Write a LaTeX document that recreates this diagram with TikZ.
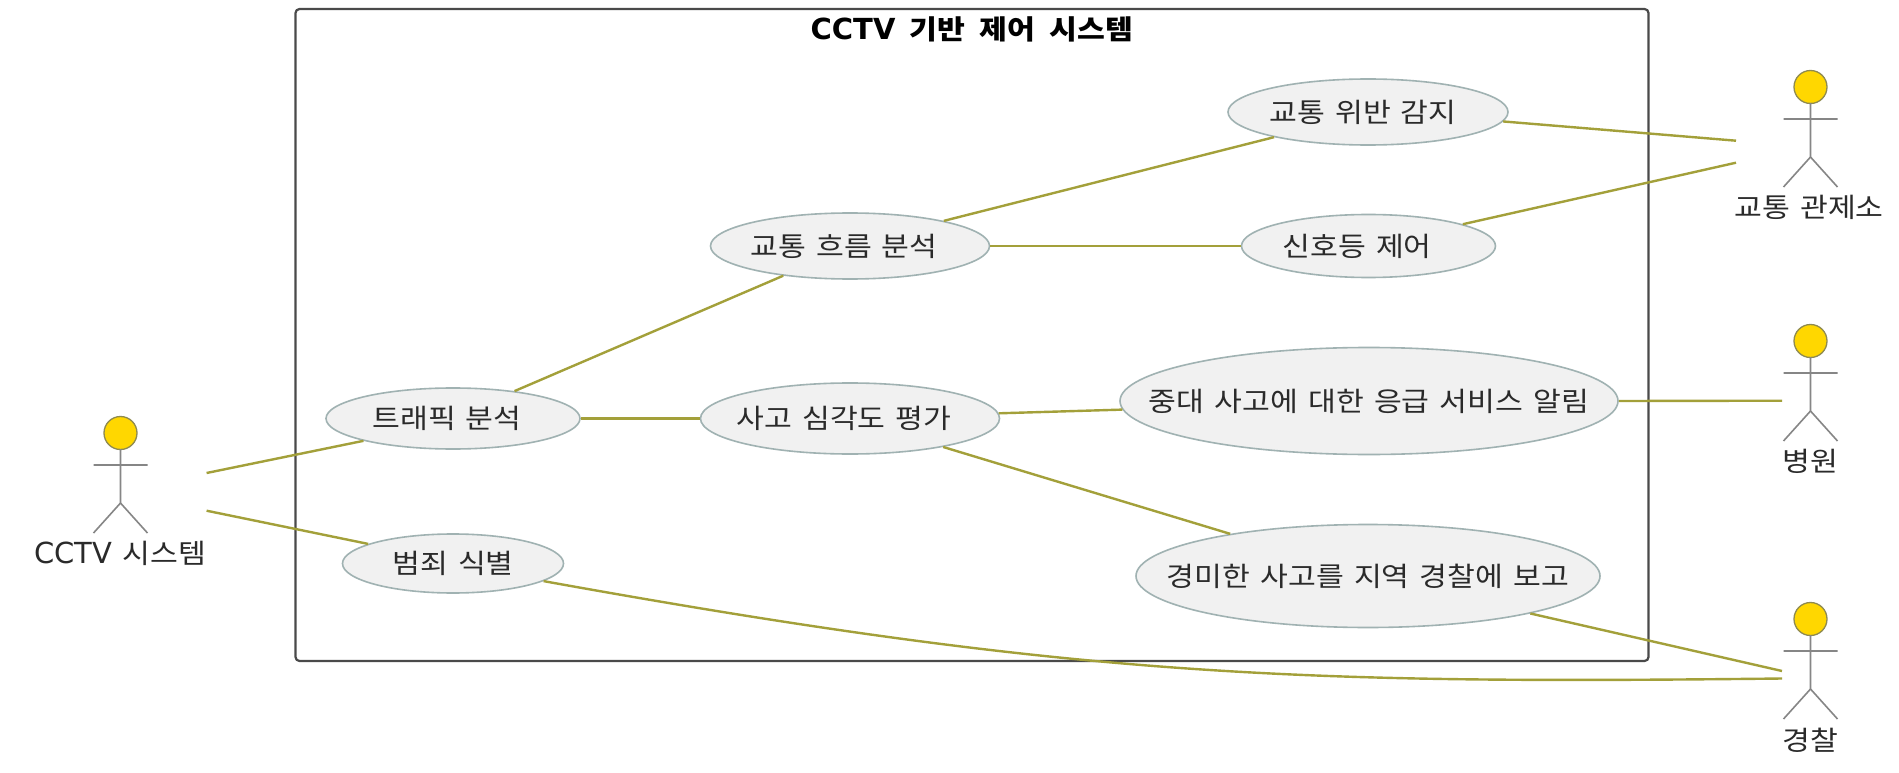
\documentclass[tikz,border=0pt]{standalone}
\usepackage{fontspec}
\setmainfont{DejaVu Sans}
\newfontfamily\kr[FakeStretch=1.12,WordSpace=1.5]{Noto Sans CJK KR}
\usetikzlibrary{shapes.geometric}
\definecolor{linkcol}{HTML}{A3A03A}
\definecolor{ucfill}{HTML}{F1F1F1}
\definecolor{ucline}{HTML}{A0B2B2}
\definecolor{stick}{HTML}{868686}
\definecolor{headcol}{HTML}{FFD700}
\definecolor{headline}{HTML}{8E8A50}
\definecolor{framecol}{HTML}{4A4A4A}
\definecolor{txt}{HTML}{2A2A2A}
\tikzset{
  x=1pt,y=-1pt,
  usecase/.style={ellipse,draw=ucline,fill=ucfill,line width=1.6pt,inner sep=0pt,
    text=txt,font=\fontsize{27}{30}\selectfont\kr},
  link/.style={draw=linkcol,line width=2.4pt},
  actorhead/.style={circle,draw=headline,fill=headcol,line width=1.3pt,minimum size=33pt,inner sep=0pt},
  stickline/.style={draw=stick,line width=1.6pt},
  actorlabel/.style={text=txt,font=\fontsize{27}{30}\selectfont\kr,inner sep=0pt},
  frame/.style={draw=framecol,line width=2.2pt,rounded corners=4pt},
  frametitle/.style={text=black,font=\fontsize{27}{30}\selectfont\bfseries\kr,inner sep=0pt},
}
\newcommand{\uctext}[2][0pt]{\makebox[0pt]{#2\hspace*{#1}}}
\newcommand{\actorfig}[3]{% name, x, head y
  \node[actorhead] (#1head) at (#2,#3) {};
  \coordinate (#1neck) at (#2,#3+16);
  \coordinate (#1hip) at (#2,#3+70);
  \coordinate (#1arml) at (#2-27,#3+32);
  \coordinate (#1armr) at (#2+27,#3+32);
  \coordinate (#1legl) at (#2-27,#3+100);
  \coordinate (#1legr) at (#2+27,#3+100);
  \draw[stickline] (#1neck) -- (#1hip) (#1arml) -- (#1armr) (#1legl) -- (#1hip) -- (#1legr);
}
\begin{document}
\begin{tikzpicture}
\useasboundingbox (0,0) rectangle (1899,773);
\fill[white] (0,0) rectangle (1899,773);
\node[frame,minimum width=1353pt,minimum height=652pt,inner sep=0pt] (sys) at (972,335) {};
\node[frametitle] (systitle) at (972,29) {{\fontspec{DejaVu Sans}\fontsize{29}{30}\selectfont\bfseries CCTV}\hspace{4pt} 기반\hspace{4pt} 제어\hspace{4pt} 시스템};

\node[usecase,minimum width=254pt,minimum height=61pt] (traffic) at (453,418.5) {\uctext[12pt]{트래픽 분석}};
\node[usecase,minimum width=221pt,minimum height=59pt] (crime) at (453,563.5) {\uctext{범죄 식별}};
\node[usecase,minimum width=279pt,minimum height=66pt] (flow) at (850,246) {\uctext[12pt]{교통 흐름 분석}};
\node[usecase,minimum width=280pt,minimum height=66pt] (viol) at (1368,112) {\uctext[10pt]{교통 위반 감지}};
\node[usecase,minimum width=254pt,minimum height=63pt] (signal) at (1368.5,246) {\uctext[23pt]{신호등 제어}};
\node[usecase,minimum width=299pt,minimum height=71pt] (sev) at (850,418.5) {\uctext[12pt]{사고 심각도 평가}};
\node[usecase,minimum width=498pt,minimum height=107pt] (emerg) at (1369,401) {\uctext{중대 사고에 대한 응급 서비스 알림}};
\node[usecase,minimum width=464pt,minimum height=103pt] (minor) at (1368,576) {\uctext{경미한 사고를 지역 경찰에 보고}};

\actorfig{cctv}{120.5}{433}
\actorfig{ctrl}{1810.5}{87}
\actorfig{hosp}{1810.5}{341}
\actorfig{pol}{1810.5}{619}
\node[actorlabel] (cctvlabel) at (120,553) {{\fontspec{DejaVu Sans}\fontsize{29}{30}\selectfont CCTV} 시스템};
\node[actorlabel] (ctrllabel) at (1809,207) {교통 관제소};
\node[actorlabel] (hosplabel) at (1810,461) {병원};
\node[actorlabel] (pollabel) at (1810,740) {경찰};

\coordinate (cctvA) at (206.6,473);
\coordinate (cctvB) at (206.6,510.7);
\coordinate (ctrlA) at (1736,140.7);
\coordinate (ctrlB) at (1736,162.7);
\coordinate (hospA) at (1782,400.7);
\coordinate (polA) at (1782,671);
\coordinate (polB) at (1782,678.5);

\draw[link] (cctvA) -- (traffic.194);
\draw[link] (cctvB) -- (crime.167.9);
\draw[link] (traffic.24.6) -- (flow.204.4);
\draw[link] (traffic.east) -- (sev.west);
\draw[link] (flow.15.5) -- (viol.195.3);
\draw[link] (flow.east) -- (signal.west);
\draw[link] (sev.2.1) -- (emerg.182);
\draw[link] (sev.-17) -- (minor.163.4);
\draw[link] (viol.-4.5) -- (ctrlA);
\draw[link] (signal.13.5) -- (ctrlB);
\draw[link] (emerg.east) -- (hospA);
\draw[link] (minor.-13.5) -- (polA);
\draw[link] (crime.-11.5) .. controls (1080,678) and (1300,684) .. (polB);
\end{tikzpicture}
\end{document}
